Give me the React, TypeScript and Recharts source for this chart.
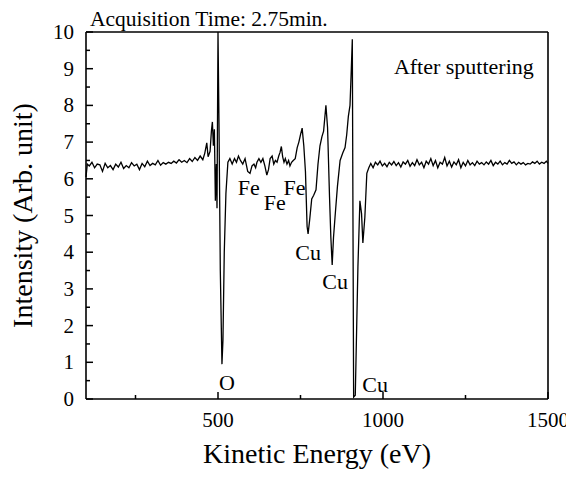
import React from 'react';
import { LineChart, Line, XAxis, YAxis, ReferenceDot } from 'recharts';

// [kinetic energy (eV), intensity (arb. unit)], region by region
const leftBaseline: [number, number][] = [
  [100, 6.05], [104, 6.4], [110, 6.35], [118, 6.45], [126, 6.3], [134, 6.4], [142, 6.38],
  [150, 6.2], [158, 6.42], [166, 6.3], [174, 6.36], [182, 6.25], [190, 6.4], [198, 6.32],
  [206, 6.45], [214, 6.28], [222, 6.36], [230, 6.3], [238, 6.44], [246, 6.35], [254, 6.4],
  [262, 6.25], [270, 6.42], [278, 6.33], [286, 6.48], [294, 6.36], [302, 6.42], [310, 6.38],
  [318, 6.5], [326, 6.37], [334, 6.44], [342, 6.4], [350, 6.45], [358, 6.42], [366, 6.48],
  [374, 6.43], [382, 6.52], [390, 6.45], [398, 6.5], [406, 6.44], [414, 6.55], [422, 6.47],
  [430, 6.58], [438, 6.5], [446, 6.62], [454, 6.52],
];

const oxygenRegion: [number, number][] = [
  [460, 6.7], [466, 6.98], [470, 6.6], [476, 6.75], [480, 7.3], [483, 7.55], [486, 6.9],
  [489, 7.35], [492, 5.4], [495, 6.4], [497, 5.2], [500, 10.0], [503, 7.5], [507, 3.5],
  [512, 0.95], [515, 1.6], [519, 4.0], [524, 5.6], [530, 6.45],
];

const ironRegion: [number, number][] = [
  [536, 6.55], [543, 6.4], [550, 6.55], [556, 6.45], [562, 6.62], [568, 6.5], [575, 6.4],
  [582, 6.55], [590, 6.2], [597, 6.15], [603, 6.35], [609, 6.4], [614, 6.3], [618, 6.45],
  [624, 6.55], [630, 6.45], [636, 6.55], [642, 6.35], [648, 6.1], [653, 6.25], [658, 6.55],
  [664, 6.62], [669, 6.4], [674, 6.5], [679, 6.45], [684, 6.62], [688, 6.72], [692, 6.88],
  [696, 6.6], [700, 6.45], [704, 6.55], [709, 6.4], [714, 6.5], [718, 6.35], [723, 6.45],
  [728, 6.5], [734, 6.55], [740, 6.85], [745, 7.0], [750, 7.2], [755, 7.38], [760, 6.9],
];

const copperRegion: [number, number][] = [
  [765, 6.2], [770, 4.7], [773, 4.5], [778, 4.9], [784, 5.45], [790, 5.55], [797, 5.7],
  [803, 6.4], [809, 6.9], [815, 7.15], [820, 7.3], [827, 8.0], [832, 7.4], [838, 5.5],
  [842, 4.4], [846, 3.65], [850, 4.4], [855, 5.0], [862, 5.8], [870, 6.5], [878, 6.7],
  [885, 6.85], [890, 7.2], [895, 7.7], [900, 8.0], [904, 9.0], [907, 9.8], [911, 0.05],
  [916, 0.1], [924, 3.6], [930, 5.4], [935, 5.05], [939, 4.25], [945, 4.95], [951, 6.15],
  [957, 6.3],
];

const rightBaseline: [number, number][] = [
  [963, 6.42], [970, 6.3], [977, 6.45], [984, 6.38], [991, 6.48], [998, 6.35], [1005, 6.42],
  [1012, 6.33], [1019, 6.45], [1026, 6.38], [1033, 6.47], [1040, 6.36], [1047, 6.44],
  [1054, 6.32], [1061, 6.46], [1068, 6.4], [1075, 6.5], [1082, 6.34], [1089, 6.44],
  [1096, 6.36], [1103, 6.52], [1110, 6.38], [1117, 6.45], [1124, 6.3], [1131, 6.48],
  [1138, 6.4], [1145, 6.55], [1152, 6.36], [1159, 6.5], [1166, 6.3], [1173, 6.45],
  [1180, 6.4], [1187, 6.58], [1194, 6.35], [1201, 6.48], [1208, 6.32], [1215, 6.46],
  [1222, 6.38], [1229, 6.52], [1236, 6.3], [1243, 6.45], [1250, 6.35], [1257, 6.5],
  [1264, 6.38], [1271, 6.44], [1278, 6.36], [1285, 6.48], [1292, 6.4], [1299, 6.44],
  [1306, 6.38], [1313, 6.46], [1320, 6.4], [1327, 6.5], [1334, 6.36], [1341, 6.45],
  [1348, 6.4], [1355, 6.48], [1362, 6.38], [1369, 6.44], [1376, 6.4], [1383, 6.5],
  [1390, 6.42], [1397, 6.46], [1404, 6.38], [1411, 6.45], [1418, 6.4], [1425, 6.44],
  [1432, 6.38], [1439, 6.42], [1446, 6.4], [1453, 6.46], [1460, 6.42], [1467, 6.48],
  [1474, 6.4], [1481, 6.45], [1488, 6.42], [1495, 6.48], [1500, 6.42],
];

const xTicks = [250, 500, 750, 1000, 1250, 1500];
const xMajor = [500, 1000, 1500];
const yTicks = [0, 0.5, 1, 1.5, 2, 2.5, 3, 3.5, 4, 4.5, 5, 5.5, 6, 6.5, 7, 7.5, 8, 8.5, 9, 9.5, 10];
const yMajor = [0, 1, 2, 3, 4, 5, 6, 7, 8, 9, 10];

const peakLabels: { text: string; ev: number; y: number }[] = [
  { text: 'O', ev: 527, y: 0.46 },
  { text: 'Fe', ev: 593, y: 5.78 },
  { text: 'Fe', ev: 672, y: 5.37 },
  { text: 'Fe', ev: 732, y: 5.78 },
  { text: 'Cu', ev: 773, y: 4.0 },
  { text: 'Cu', ev: 855, y: 3.2 },
  { text: 'Cu', ev: 976, y: 0.4 },
];

const data = [...leftBaseline, ...oxygenRegion, ...ironRegion, ...copperRegion, ...rightBaseline].map(
  ([ev, intensity]) => ({ ev, intensity })
);

const FONT = '"Liberation Serif", "Times New Roman", serif';

type Side = 'bottom' | 'top' | 'left' | 'right';

const makeTick = (side: Side, majors: number[], showLabel: boolean) => (props: any) => {
  const { x, y, payload } = props;
  const v = payload.value;
  const major = majors.includes(v);
  const len = major ? 7 : 4;
  let line;
  if (side === 'bottom') line = <line x1={x} y1={y} x2={x} y2={y - len} stroke="#000" strokeWidth={1.5} />;
  else if (side === 'top') line = <line x1={x} y1={y} x2={x} y2={y + len} stroke="#000" strokeWidth={1.5} />;
  else if (side === 'left') line = <line x1={x} y1={y} x2={x + len} y2={y} stroke="#000" strokeWidth={1.5} />;
  else line = <line x1={x} y1={y} x2={x - len} y2={y} stroke="#000" strokeWidth={1.5} />;
  let label = null;
  const textStyle = { fontFamily: FONT, fontSize: 21 };
  if (showLabel && major) {
    if (side === 'bottom') {
      label = (
        <text x={x} y={y + 28} textAnchor="middle" style={textStyle} fill="#000">
          {v}
        </text>
      );
    } else if (side === 'left') {
      label = (
        <text x={x - 12} y={y + 7} textAnchor="end" style={textStyle} fill="#000">
          {v}
        </text>
      );
    }
  }
  return (
    <g>
      {line}
      {label}
    </g>
  );
};

const axisLine = { stroke: '#000', strokeWidth: 1.6 };

export default function App() {
  return (
    <div style={{ position: 'relative', width: 566, height: 462, fontFamily: FONT }}>
      <style>{'.recharts-surface, .recharts-wrapper { overflow: visible !important; }'}</style>
      <div
        style={{
          position: 'absolute',
          left: 82,
          top: 1,
          fontFamily: FONT,
          fontSize: 21.5,
          lineHeight: 1,
          color: '#000',
          whiteSpace: 'nowrap',
          zIndex: 1,
        }}
      >
        Acquisition Time: 2.75min.
      </div>
      <LineChart
        width={566}
        height={462}
        data={data}
        margin={{ top: 23, right: 25, bottom: 31, left: 38 }}
      >
        <XAxis
          dataKey="ev"
          type="number"
          domain={[100, 1500]}
          ticks={xTicks}
          interval={0}
          tickSize={0}
          tickMargin={0}
          height={40}
          axisLine={axisLine}
          tickLine={false}
          tick={makeTick('bottom', xMajor, true)}
          label={{ value: 'Kinetic Energy (eV)', position: 'bottom', offset: 4, fontSize: 28, fontFamily: FONT, fill: '#000' }}
        />
        <XAxis
          xAxisId="top"
          orientation="top"
          type="number"
          domain={[100, 1500]}
          ticks={xTicks}
          interval={0}
          tickSize={0}
          tickMargin={0}
          height={1}
          axisLine={axisLine}
          tickLine={false}
          tick={makeTick('top', xMajor, false)}
        />
        <YAxis
          type="number"
          domain={[0, 10]}
          ticks={yTicks}
          interval={0}
          tickSize={0}
          tickMargin={0}
          width={40}
          axisLine={axisLine}
          tickLine={false}
          tick={makeTick('left', yMajor, true)}
          label={{
            value: 'Intensity (Arb. unit)',
            angle: -90,
            position: 'insideLeft',
            offset: -24,
            fontSize: 28,
            fontFamily: FONT,
            fill: '#000',
            style: { textAnchor: 'middle' },
          }}
        />
        <YAxis
          yAxisId="right"
          orientation="right"
          type="number"
          domain={[0, 10]}
          ticks={yTicks}
          interval={0}
          tickSize={0}
          tickMargin={0}
          width={1}
          axisLine={axisLine}
          tickLine={false}
          tick={makeTick('right', yMajor, false)}
        />
        <Line
          type="linear"
          dataKey="intensity"
          stroke="#000"
          strokeWidth={1.3}
          dot={false}
          isAnimationActive={false}
        />
        {peakLabels.map((p, i) => (
          <ReferenceDot
            key={i}
            x={p.ev}
            y={p.y}
            r={0}
            fill="none"
            stroke="none"
            label={{ value: p.text, position: 'center', fontSize: 22, fontFamily: FONT, fill: '#000' }}
          />
        ))}
        <ReferenceDot
          x={1245}
          y={9.07}
          r={0}
          fill="none"
          stroke="none"
          label={{ value: 'After sputtering', position: 'center', fontSize: 22, fontFamily: FONT, fill: '#000' }}
        />
      </LineChart>
    </div>
  );
}
